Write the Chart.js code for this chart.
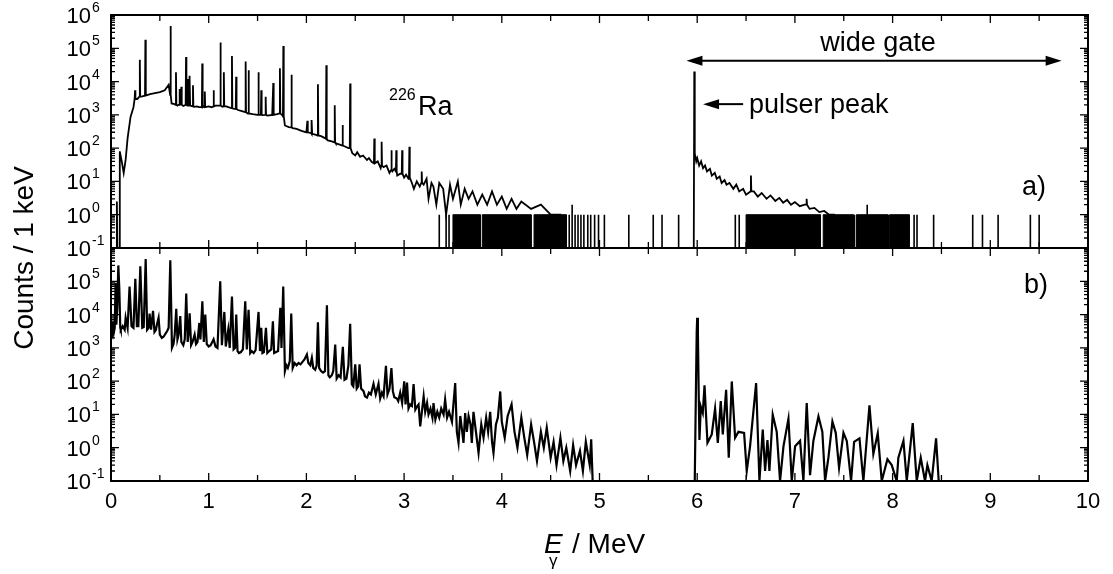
<!DOCTYPE html>
<html>
<head>
<meta charset="utf-8">
<script src="https://cdn.jsdelivr.net/npm/chart.js@4.4.0/dist/chart.umd.min.js"></script>
<style>
  html, body { margin: 0; padding: 0; background: #fff; }
</style>
</head>
<body>
<canvas id="spectra" width="1113" height="574"></canvas>
<script>
// ---- panel a): singles spectrum, continuum points [MeV, counts per keV]
var topContinuum = [[0.055, 0.1], [0.06, 2.5], [0.065, 0.1], [0.085, 0.1], [0.09, 80], [0.11, 40], [0.13, 18],
  [0.15, 45], [0.17, 200], [0.2, 870], [0.23, 1700], [0.27, 3000], [0.32, 3600], [0.4, 4200], [0.45, 4500],
  [0.5, 4800], [0.55, 5500], [0.59, 8000], [0.62, 2200], [0.65, 2100], [0.68, 1900], [0.69, 2000], [0.74, 1850],
  [0.8, 1900], [0.85, 1750], [0.88, 1800], [0.9, 1700], [0.95, 1800], [1.0, 1800], [1.03, 1700], [1.07, 1900],
  [1.1, 1900], [1.14, 1750], [1.18, 1800], [1.2, 1700], [1.25, 1550], [1.3, 1400], [1.34, 1300], [1.4, 1100],
  [1.45, 1050], [1.5, 1000], [1.55, 980], [1.6, 950], [1.65, 1000], [1.7, 1050], [1.75, 1000], [1.78, 480],
  [1.82, 430], [1.86, 400], [1.9, 380], [1.95, 330], [2.0, 300], [2.05, 280], [2.1, 250], [2.15, 230], [2.19, 200],
  [2.22, 170], [2.26, 160], [2.3, 140], [2.35, 125], [2.4, 110], [2.43, 100], [2.47, 70], [2.5, 60], [2.52, 75],
  [2.55, 55], [2.58, 60], [2.62, 44], [2.64, 50], [2.67, 38], [2.7, 35], [2.73, 40], [2.76, 25], [2.79, 27],
  [2.82, 30], [2.85, 18], [2.88, 20], [2.9, 24], [2.93, 15], [2.96, 17], [3.0, 13], [3.02, 16], [3.045, 12],
  [3.08, 9], [3.1, 6], [3.13, 10], [3.16, 7], [3.2, 8], [3.23, 12], [3.25, 3], [3.28, 9], [3.3, 7], [3.33, 2],
  [3.36, 9], [3.4, 6], [3.43, 1], [3.47, 8], [3.5, 3], [3.55, 10], [3.58, 2], [3.62, 6], [3.66, 3], [3.7, 5],
  [3.75, 2], [3.8, 4], [3.85, 2], [3.9, 5], [3.95, 2], [4.0, 3.5], [4.05, 1.5], [4.1, 3], [4.15, 1.5], [4.2, 2.5],
  [4.3, 1.5], [4.4, 2], [4.5, 1], [4.6, 1], [4.62, 0.1], [5.965, 0.1], [5.97, 20000], [5.975, 70], [5.99, 40],
  [6.0, 50], [6.02, 30], [6.04, 40], [6.06, 25], [6.08, 30], [6.1, 20], [6.13, 24], [6.15, 15], [6.18, 18],
  [6.2, 12], [6.23, 14], [6.25, 9], [6.28, 11], [6.3, 8], [6.33, 9], [6.37, 6], [6.4, 8], [6.43, 5], [6.47, 6],
  [6.5, 4], [6.58, 5], [6.62, 3.5], [6.66, 4.5], [6.71, 3], [6.75, 3.8], [6.8, 2.6], [6.84, 3.2], [6.88, 2.3],
  [6.92, 2.8], [6.96, 2], [7.0, 2.4], [7.05, 1.8], [7.1, 2], [7.15, 1.5], [7.2, 1.6], [7.25, 1.2], [7.3, 1.3],
  [7.35, 1], [7.4, 1], [7.42, 0.1], [10.0, 0.1]];
// gamma lines of panel a): [energy, peak counts, base counts]
var topPeaks = [[0.246, 5500, 3000], [0.295, 45000, 3500], [0.352, 180000, 3800], [0.609, 470000, 4000],
  [0.665, 19000, 2000], [0.703, 6000, 2000], [0.72, 7000, 2000], [0.768, 55000, 2000], [0.786, 12000, 1900],
  [0.806, 15000, 1900], [0.839, 7800, 1800], [0.934, 35000, 1700], [0.96, 5000, 1700], [1.05, 5500, 1800],
  [1.12, 150000, 1900], [1.155, 19000, 1800], [1.238, 59000, 1600], [1.281, 14000, 1500], [1.378, 40000, 1200],
  [1.408, 22000, 1100], [1.509, 19000, 1000], [1.538, 5500, 1000], [1.583, 3500, 1000], [1.661, 9000, 1000],
  [1.729, 25000, 1100], [1.764, 117000, 900], [1.847, 16000, 420], [2.01, 660, 300], [2.055, 700, 270],
  [2.118, 8300, 240], [2.204, 31000, 190], [2.29, 1950, 150], [2.37, 500, 120], [2.448, 8700, 100],
  [2.695, 195, 35], [2.77, 155, 30], [2.87, 87, 22], [2.92, 87, 20], [2.98, 87, 17], [3.054, 110, 13],
  [3.18, 20, 9], [6.55, 15, 5], [7.12, 3, 2]];
// single-count bins of panel a): energy ranges filled up to one count, and isolated bins [energy, counts]
var topNoiseBands = [[3.5, 3.78], [3.8, 4.3], [4.33, 4.66], [6.5, 7.26], [7.29, 7.6], [7.63, 7.95], [7.97, 8.17]];
var topSingles = [[3.36, 1], [3.43, 1], [3.46, 1], [4.69, 1], [4.72, 2], [4.75, 1], [4.78, 1], [4.81, 1],
  [4.84, 1], [4.88, 1], [4.91, 1], [4.95, 1], [4.99, 1], [5.05, 1], [5.3, 1], [5.55, 1], [5.64, 1], [5.81, 1],
  [6.39, 1], [6.43, 1], [7.61, 1], [7.74, 2], [7.96, 1], [8.22, 1], [8.25, 1], [8.42, 1], [8.82, 1], [8.92, 1],
  [9.08, 1], [9.41, 1], [9.5, 1]];

// ---- panel b): gated spectrum [MeV, counts per keV]
var botSpectrum = [[0.0, 2900], [0.01, 2500], [0.02, 6000], [0.03, 3000], [0.038, 4000], [0.047, 90000],
  [0.055, 5000], [0.065, 20000], [0.075, 300000], [0.085, 60000], [0.095, 4000], [0.1, 3500], [0.12, 4500],
  [0.14, 3500], [0.15, 8000], [0.17, 4000], [0.19, 70000], [0.21, 4500], [0.23, 4000], [0.249, 118000],
  [0.265, 4500], [0.28, 4500], [0.3, 280000], [0.32, 4000], [0.335, 4200], [0.355, 470000], [0.37, 3500],
  [0.385, 4000], [0.395, 10700], [0.41, 3500], [0.43, 13000], [0.445, 3000], [0.46, 3500], [0.47, 5000],
  [0.487, 8000], [0.5, 2500], [0.52, 2000], [0.54, 2200], [0.555, 2600], [0.575, 3200], [0.59, 4000],
  [0.607, 430000], [0.624, 1000], [0.64, 1300], [0.652, 2500], [0.668, 15000], [0.68, 1800], [0.692, 2500],
  [0.709, 9000], [0.72, 1500], [0.74, 1200], [0.755, 1800], [0.77, 43000], [0.785, 1500], [0.795, 3000],
  [0.805, 11000], [0.82, 1200], [0.835, 1500], [0.856, 2500], [0.87, 1300], [0.885, 1500], [0.904, 5600],
  [0.915, 1800], [0.935, 25000], [0.95, 1500], [0.965, 10000], [0.98, 1300], [1.0, 1100], [1.02, 1200],
  [1.05, 1800], [1.07, 1100], [1.09, 1000], [1.118, 100000], [1.135, 1200], [1.16, 12000], [1.175, 1100],
  [1.2, 3500], [1.215, 1000], [1.238, 35000], [1.255, 900], [1.27, 1000], [1.282, 10000], [1.295, 800],
  [1.31, 700], [1.33, 750], [1.35, 900], [1.374, 25000], [1.39, 900], [1.408, 14000], [1.425, 700], [1.44, 800],
  [1.46, 700], [1.48, 850], [1.51, 12000], [1.525, 800], [1.538, 4000], [1.55, 700], [1.565, 750], [1.586, 4000],
  [1.6, 700], [1.62, 800], [1.64, 900], [1.657, 6300], [1.67, 700], [1.69, 750], [1.71, 800], [1.733, 16000],
  [1.745, 1000], [1.763, 70000], [1.78, 200], [1.795, 300], [1.81, 250], [1.83, 400], [1.845, 10700],
  [1.86, 250], [1.88, 350], [1.9, 300], [1.92, 350], [1.94, 320], [1.96, 380], [1.98, 450], [2.005, 630],
  [2.02, 350], [2.04, 300], [2.056, 500], [2.07, 250], [2.09, 220], [2.105, 300], [2.118, 5900], [2.13, 250],
  [2.15, 200], [2.17, 180], [2.19, 200], [2.21, 19000], [2.225, 150], [2.24, 130], [2.26, 150], [2.275, 200],
  [2.295, 1260], [2.31, 120], [2.33, 150], [2.35, 130], [2.373, 1070], [2.39, 110], [2.41, 120], [2.43, 300],
  [2.448, 5300], [2.465, 80], [2.48, 70], [2.5, 320], [2.515, 60], [2.53, 70], [2.544, 320], [2.56, 60],
  [2.585, 50], [2.6, 35], [2.62, 32], [2.64, 45], [2.66, 40], [2.687, 83], [2.71, 40], [2.738, 83], [2.755, 30],
  [2.773, 45], [2.79, 35], [2.814, 290], [2.83, 40], [2.851, 60], [2.87, 245], [2.885, 50], [2.9, 33],
  [2.926, 30], [2.94, 25], [2.96, 45], [2.98, 22], [3.001, 98], [3.015, 20], [3.03, 90], [3.045, 15],
  [3.063, 20], [3.08, 18], [3.097, 82], [3.115, 14], [3.13, 17], [3.148, 20], [3.165, 4.4], [3.182, 12],
  [3.2, 35], [3.216, 12], [3.235, 22], [3.25, 10], [3.27, 15], [3.29, 8], [3.301, 22], [3.32, 7], [3.34, 12],
  [3.36, 8], [3.38, 15], [3.404, 10], [3.42, 28], [3.44, 8], [3.46, 12], [3.49, 6], [3.523, 87], [3.54, 3],
  [3.557, 1.4], [3.575, 9], [3.59, 4], [3.608, 1.4], [3.625, 11], [3.642, 3], [3.66, 9], [3.68, 5], [3.693, 1.4],
  [3.71, 12], [3.73, 4], [3.762, 0.7], [3.79, 5], [3.813, 2], [3.84, 8], [3.86, 3], [3.881, 12], [3.9, 1.5],
  [3.915, 0.7], [3.94, 5], [3.96, 8], [3.984, 49], [4.0, 6], [4.03, 2], [4.06, 9], [4.1, 20], [4.13, 3],
  [4.16, 1], [4.2, 8], [4.23, 2], [4.26, 0.6], [4.3, 5], [4.33, 1.5], [4.36, 0.4], [4.4, 3], [4.43, 1],
  [4.46, 4], [4.5, 0.5], [4.53, 1.5], [4.56, 0.3], [4.6, 2], [4.63, 0.4], [4.66, 1], [4.7, 0.2], [4.73, 1.2],
  [4.76, 0.3], [4.8, 0.8], [4.83, 0.2], [4.86, 1.5], [4.9, 0.3], [4.915, 1.8], [4.93, 0.1], [5.975, 0.1],
  [5.985, 20], [5.995, 3000], [6.0, 8000], [6.007, 3000], [6.015, 50], [6.023, 1.7], [6.037, 17], [6.057, 11],
  [6.075, 75], [6.105, 1.4], [6.149, 2.5], [6.183, 15], [6.211, 1.4], [6.241, 25], [6.262, 2.5], [6.296, 55],
  [6.323, 0.5], [6.354, 98], [6.388, 2], [6.422, 3], [6.48, 2.8], [6.507, 0.2], [6.541, 1.1], [6.603, 87],
  [6.637, 0.1], [6.671, 3.5], [6.695, 0.2], [6.719, 1.7], [6.739, 0.2], [6.773, 9.8], [6.814, 3], [6.848, 0.1],
  [6.883, 1.1], [6.934, 7.4], [6.968, 0.1], [7.002, 1.1], [7.053, 1.6], [7.087, 0.1], [7.121, 22], [7.155, 0.15],
  [7.189, 1.6], [7.241, 8.7], [7.281, 3], [7.309, 0.1], [7.343, 0.5], [7.384, 6.1], [7.418, 2.8], [7.452, 0.25],
  [7.497, 2.8], [7.531, 1.6], [7.575, 0.1], [7.606, 1.5], [7.661, 1.9], [7.701, 0.1], [7.763, 18.6],
  [7.803, 0.65], [7.848, 2.7], [7.889, 0.1], [7.947, 0.45], [7.991, 0.3], [8.042, 0.1], [8.059, 0.5],
  [8.111, 1.6], [8.145, 0.1], [8.206, 5.5], [8.247, 0.1], [8.288, 0.5], [8.332, 0.1], [8.356, 0.3], [8.4, 0.1],
  [8.445, 1.9], [8.472, 0.1], [10.0, 0.1]];

var decadesTop = [-1, 0, 1, 2, 3, 4, 5, 6];
var decadesBot = [-1, 0, 1, 2, 3, 4, 5];
var energyTicks = [0, 1, 2, 3, 4, 5, 6, 7, 8, 9, 10];

// point lists for Chart.js
function spectrum(pairs, peaks) {
  var pts = pairs.map(function(p) { return {x: p[0], y: p[1]}; });
  peaks.forEach(function(p) {
    pts.push({x: p[0] - 0.004, y: p[2]}, {x: p[0], y: p[1]}, {x: p[0] + 0.004, y: p[2]});
  });
  pts.sort(function(a, b) { return a.x - b.x; });
  return pts;
}
function bands(list) {
  var pts = [];
  list.forEach(function(b) {
    pts.push({x: b[0], y: 0.1}, {x: b[0], y: 1}, {x: b[1], y: 1}, {x: b[1], y: 0.1});
  });
  return pts;
}
function singles(list) {
  var pts = [];
  list.forEach(function(s) {
    pts.push({x: s[0], y: 0.1}, {x: s[0], y: s[1]}, {x: s[0], y: 0.1});
  });
  return pts;
}

var FONT = "'Liberation Sans', Arial, Helvetica, sans-serif";

function pow10(ctx, x, y, exp) {
  // "10" right-aligned at x, exponent raised after it
  ctx.font = '22px ' + FONT;
  ctx.textAlign = 'right';
  ctx.textBaseline = 'alphabetic';
  ctx.fillText('10', x, y + 10);
  ctx.font = '14px ' + FONT;
  ctx.textAlign = 'left';
  ctx.fillText(String(exp), x + 1, y - 1);
}

var framePlugin = {
  id: 'frame',
  afterDraw: function(chart) {
    var ctx = chart.ctx;
    var xs = chart.scales.x;
    var panels = [[chart.scales.yTop, decadesTop], [chart.scales.yBot, decadesBot]];
    ctx.save();
    ctx.fillStyle = '#000';
    ctx.strokeStyle = '#000';
    panels.forEach(function(p) {
      var ys = p[0];
      var top = ys.top, bottom = ys.bottom, left = xs.left, right = xs.right;
      ctx.lineWidth = 1.3;
      ctx.beginPath();
      for (var v = 0; v <= 10; v += 0.5) {
        var px = xs.getPixelForValue(v);
        var len = (v % 1 === 0) ? 8 : 6;
        ctx.moveTo(px, bottom); ctx.lineTo(px, bottom - len);
        ctx.moveTo(px, top); ctx.lineTo(px, top + len);
      }
      for (var e = -1; e <= 5; e++) {
        for (var m = 1; m <= 9; m++) {
          var py = ys.getPixelForValue(m * Math.pow(10, e));
          var l = m === 1 ? 8 : 4;
          ctx.moveTo(left, py); ctx.lineTo(left + l, py);
          ctx.moveTo(right, py); ctx.lineTo(right - l, py);
        }
      }
      ctx.stroke();
      ctx.lineWidth = 2;
      ctx.strokeRect(left, top, right - left, bottom - top);
      p[1].forEach(function(d) {
        pow10(ctx, 91, ys.getPixelForValue(Math.pow(10, d)) - 2, d);
      });
    });

    // energy tick labels
    var yb = chart.scales.yBot;
    ctx.font = '22px ' + FONT;
    ctx.textAlign = 'center';
    ctx.textBaseline = 'alphabetic';
    energyTicks.forEach(function(t) {
      ctx.fillText(String(t), xs.getPixelForValue(t), yb.bottom + 27);
    });

    // axis titles
    ctx.save();
    ctx.translate(33, 258);
    ctx.rotate(-Math.PI / 2);
    ctx.font = '28px ' + FONT;
    ctx.textAlign = 'center';
    ctx.fillText('Counts / 1 keV', 0, 0);
    ctx.restore();
    ctx.textAlign = 'left';
    ctx.font = 'italic 28px ' + FONT;
    ctx.fillText('E', 544, 553);
    ctx.font = '17px ' + FONT;
    ctx.fillText('\u03b3', 549, 566);
    ctx.font = '28px ' + FONT;
    ctx.fillText('/ MeV', 572, 553);

    // annotations
    var yt = chart.scales.yTop;
    ctx.font = '16px ' + FONT;
    ctx.fillText('226', 389, 100);
    ctx.font = '27px ' + FONT;
    ctx.fillText('Ra', 418, 115);
    ctx.fillText('pulser peak', 749, 113);
    ctx.textAlign = 'center';
    ctx.fillText('wide gate', xs.getPixelForValue(7.85), 51);
    ctx.textAlign = 'left';
    ctx.fillText('a)', 1022, 195);
    ctx.fillText('b)', 1024, 293);

    function arrowHead(tipX, y, dir) {
      ctx.beginPath();
      ctx.moveTo(tipX, y);
      ctx.lineTo(tipX + dir * 16, y - 5);
      ctx.lineTo(tipX + dir * 16, y + 5);
      ctx.closePath();
      ctx.fill();
    }
    var gx0 = xs.getPixelForValue(5.89), gx1 = xs.getPixelForValue(9.73);
    var gy = yt.getPixelForValue(4.2e4);
    ctx.lineWidth = 2;
    ctx.beginPath(); ctx.moveTo(gx0 + 10, gy); ctx.lineTo(gx1 - 10, gy); ctx.stroke();
    arrowHead(gx0, gy, 1);
    arrowHead(gx1, gy, -1);
    var px0 = xs.getPixelForValue(6.06), px1 = xs.getPixelForValue(6.47);
    var py0 = yt.getPixelForValue(2100);
    ctx.beginPath(); ctx.moveTo(px0 + 10, py0); ctx.lineTo(px1, py0); ctx.stroke();
    arrowHead(px0, py0, 1);
    ctx.restore();
  }
};

var line = function(data, axis, width) {
  return {data: data, yAxisID: axis, borderColor: '#000', borderWidth: width,
    pointRadius: 0, tension: 0, fill: false};
};
var noiseSet = line(bands(topNoiseBands), 'yTop', 1);
noiseSet.fill = 'start';
noiseSet.backgroundColor = '#000';

new Chart(document.getElementById('spectra').getContext('2d'), {
  type: 'line',
  data: {
    datasets: [
      noiseSet,
      line(singles(topSingles), 'yTop', 1.6),
      line(spectrum(topContinuum, topPeaks), 'yTop', 1.8),
      line(spectrum(botSpectrum, []), 'yBot', 2.2)
    ]
  },
  options: {
    responsive: false,
    animation: false,
    events: [],
    layout: {padding: {left: 111, right: 25, top: 15, bottom: 93}},
    plugins: {legend: {display: false}, tooltip: {enabled: false}},
    scales: {
      x: {type: 'linear', min: 0, max: 10, display: false},
      yBot: {type: 'logarithmic', min: 0.1, max: 1e6, position: 'left', stack: 'panels', stackWeight: 1, display: false},
      yTop: {type: 'logarithmic', min: 0.1, max: 1e6, position: 'left', stack: 'panels', stackWeight: 1, display: false}
    }
  },
  plugins: [framePlugin]
});
</script>
</body>
</html>
